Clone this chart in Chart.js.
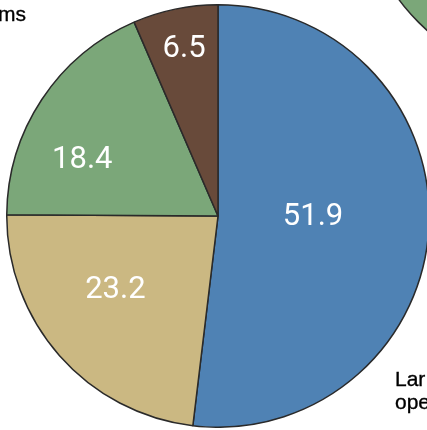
<!DOCTYPE html>
<html><head><meta charset="utf-8">
<script src="https://cdn.jsdelivr.net/npm/chart.js@4.4.1/dist/chart.umd.min.js"></script>
<style>
html,body{margin:0;padding:0;width:427px;height:430px;overflow:hidden;background:#fff;position:relative}
#next{position:absolute;left:356px;top:-339px;width:424px;height:424px}
#main{position:absolute;left:6px;top:4px;width:424px;height:424px}
.t{position:absolute;font-family:"Liberation Sans",Arial,Helvetica,sans-serif;color:#000;white-space:nowrap;-webkit-text-stroke:0.35px #000}
</style></head><body>
<div id="next"><canvas id="c2"></canvas></div>
<div id="main"><canvas id="c1"></canvas></div>
<div class="t" style="left:-2px;top:3px;font-size:21px;line-height:21px">ms</div>
<div class="t" style="left:395px;top:367px;font-size:21px;line-height:23px">Lar<br>ope</div>
<script>
// Data (clockwise from 12 o'clock)
const categories = ["Blue segment", "Tan segment", "Green segment", "Brown segment"];
const shares = [51.9, 23.2, 18.4, 6.5];
// Neighbouring pie, only a green edge visible in the corner
const neighbourCategories = ["Green segment"];
const neighbourShares = [100];

const sliceColors = ["#4F82B4", "#CBB882", "#7BA779", "#684A3A"];

const sliceLabels = {
  id: "sliceLabels",
  afterDatasetsDraw(chart, args, opts) {
    if (!opts || !opts.show) return;
    const ctx = chart.ctx;
    const meta = chart.getDatasetMeta(0);
    const values = chart.data.datasets[0].data;
    ctx.save();
    ctx.fillStyle = "#ffffff";
    ctx.font = "31px Roboto, 'Liberation Sans', sans-serif";
    ctx.textAlign = "center";
    ctx.textBaseline = "alphabetic";
    meta.data.forEach((arc, i) => {
      const p = arc.getProps(["x", "y", "startAngle", "endAngle", "outerRadius"], true);
      const mid = (p.startAngle + p.endAngle) / 2 + (opts.turn[i] || 0) * Math.PI / 180;
      const r = p.outerRadius * opts.radius[i];
      const x = p.x + Math.cos(mid) * r;
      const y = p.y + Math.sin(mid) * r;
      ctx.fillText(values[i].toFixed(1), x, y + 11);
    });
    ctx.restore();
  }
};

const commonOptions = {
  responsive: true,
  maintainAspectRatio: false,
  animation: false,
  events: [],
  layout: { padding: 0 }
};

new Chart(document.getElementById("c2"), {
  type: "pie",
  data: {
    labels: neighbourCategories,
    datasets: [{
      data: neighbourShares,
      backgroundColor: ["#7BA779"],
      borderColor: "#2a2a2a",
      borderWidth: 1.5,
      hoverOffset: 0,
      offset: 0
    }]
  },
  options: Object.assign({}, commonOptions, {
    plugins: { legend: { display: false }, tooltip: { enabled: false }, sliceLabels: { show: false } }
  }),
  plugins: [sliceLabels]
});

new Chart(document.getElementById("c1"), {
  type: "pie",
  data: {
    labels: categories,
    datasets: [{
      data: shares,
      backgroundColor: sliceColors,
      borderColor: "#2a2a2a",
      borderWidth: 1.5,
      hoverOffset: 0,
      offset: 0
    }]
  },
  options: Object.assign({}, commonOptions, {
    plugins: {
      legend: { display: false },
      tooltip: { enabled: false },
      sliceLabels: {
        show: true,
        radius: [0.45, 0.59, 0.70, 0.82],
        turn: [-4.9, 6.8, -10.1, 0.4]
      }
    }
  }),
  plugins: [sliceLabels]
});
</script>
</body></html>
